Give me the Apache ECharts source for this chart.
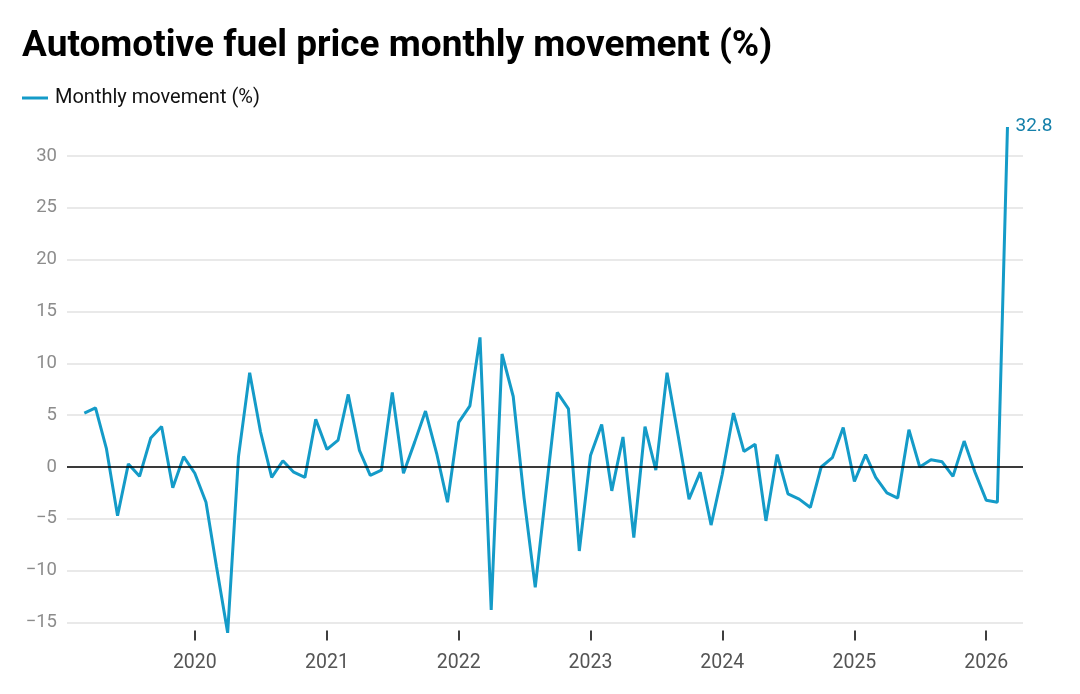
<!DOCTYPE html>
<html>
<head>
<meta charset="utf-8">
<script src="https://cdn.jsdelivr.net/npm/echarts@6/dist/echarts.min.js"></script>
<style>
  html, body { margin: 0; padding: 0; background: #fff; }
  #chart { width: 1080px; height: 694px; }
</style>
</head>
<body>
<div id="chart"></div>
<script>
// monthly movement (%), one array per year, starting March 2019
const startYear = 2019;
const startMonth = 3;
const values2019 = [5.2, 5.7, 1.8, -4.7, 0.3, -0.9, 2.8, 3.9, -2.0, 1.0];
const values2020 = [-0.6, -3.4, -9.6, -16.0, 1.0, 9.1, 3.4, -1.0, 0.6, -0.5, -1.0, 4.6];
const values2021 = [1.7, 2.6, 7.0, 1.6, -0.8, -0.3, 7.2, -0.6, 2.4, 5.4, 1.3, -3.4];
const values2022 = [4.3, 5.9, 12.5, -13.8, 10.9, 6.8, -3.0, -11.6, -2.0, 7.2, 5.6, -8.1];
const values2023 = [1.1, 4.1, -2.3, 2.9, -6.8, 3.9, -0.3, 9.1, 3.0, -3.1, -0.5, -5.6];
const values2024 = [-0.7, 5.2, 1.5, 2.2, -5.2, 1.2, -2.6, -3.1, -3.9, 0.0, 0.9, 3.8];
const values2025 = [-1.4, 1.2, -1.0, -2.5, -3.0, 3.6, 0.0, 0.7, 0.5, -0.9, 2.5, -0.5];
const values2026 = [-3.2, -3.4, 32.8];

const seriesName = "Monthly movement (%)";
const yTicks = [-15, -10, -5, 0, 5, 10, 15, 20, 25, 30];

const allValues = [].concat(values2019, values2020, values2021, values2022,
  values2023, values2024, values2025, values2026);

const points = allValues.map((v, i) => {
  const m = startMonth - 1 + i;
  const y = startYear + Math.floor(m / 12);
  const mm = String((m % 12) + 1).padStart(2, "0");
  return [`${y}-${mm}-01`, v];
});

const chart = echarts.init(document.getElementById("chart"));
const YEAR = 365 * 24 * 3600 * 1000;

chart.setOption({
  animation: false,
  textStyle: { fontFamily: "Roboto, sans-serif" },
  title: {
    text: "Automotive fuel price monthly movement (%)",
    left: 17,
    top: 23,
    textStyle: { fontSize: 37, fontWeight: "bold", color: "#000", fontFamily: "Roboto" },
  },
  legend: {
    left: 22,
    top: 88,
    padding: 0,
    icon: "rect",
    itemWidth: 26,
    itemHeight: 3,
    textStyle: { fontSize: 20, color: "#111", padding: [0, 0, 0, 2] },
    data: [seriesName],
  },
  grid: { left: 67, right: 57, top: 156, bottom: 71.5 },
  xAxis: {
    type: "time",
    min: "2019-01-12",
    max: "2026-04-13",
    minInterval: YEAR,
    maxInterval: YEAR,
    offset: 8,
    axisLine: { show: false, onZero: false },
    axisTick: { show: true, length: 10, lineStyle: { color: "#000", width: 1.5 } },
    axisLabel: {
      formatter: "{yyyy}",
      fontSize: 19.5,
      color: "#555",
      margin: 23,
      showMinLabel: false,
      showMaxLabel: false,
    },
    splitLine: { show: false },
  },
  yAxis: {
    type: "value",
    min: yTicks[0],
    max: yTicks[yTicks.length - 1],
    interval: 5,
    axisLine: { show: false },
    axisTick: { show: false },
    axisLabel: {
      fontSize: 18.5,
      color: "#8c8c8c",
      margin: 10,
      formatter: (v) => (v < 0 ? "\u2212" + Math.abs(v) : String(v)),
    },
    splitLine: { lineStyle: { color: "#e2e2e2", width: 1.5 } },
  },
  series: [
    {
      name: seriesName,
      type: "line",
      data: points,
      showSymbol: false,
      symbol: "none",
      clip: false,
      lineStyle: { color: "#149bc8", width: 3 },
      itemStyle: { color: "#149bc8" },
      endLabel: {
        show: true,
        formatter: (p) => p.value[1].toFixed(1),
        fontSize: 19,
        color: "#1580aa",
        distance: 8,
        offset: [0, -1],
      },
      markLine: {
        silent: true,
        symbol: "none",
        label: { show: false },
        lineStyle: { color: "#000", width: 1.5, type: "solid" },
        data: [{ yAxis: 0 }],
      },
      z: 3,
    },
  ],
});
</script>
</body>
</html>
